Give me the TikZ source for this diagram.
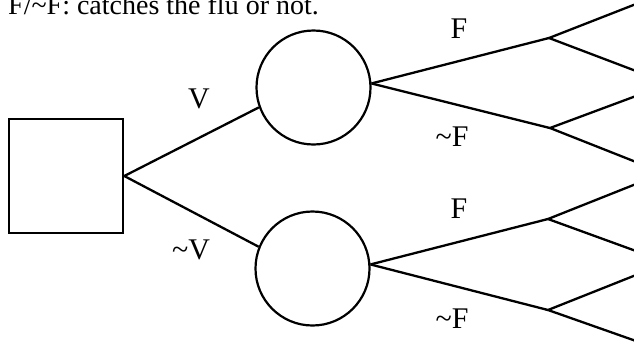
\documentclass[tikz,border=0pt]{standalone}
\usepackage{fontspec}
\setmainfont{Liberation Serif}
\begin{document}
\begin{tikzpicture}[x=1pt,y=-1pt,
  edge/.style={line width=2.3pt},
  chance/.style={draw,circle,line width=2.2pt,minimum size=114pt,inner sep=0pt},
  decision/.style={draw,rectangle,line width=2.6pt,minimum size=114pt,inner sep=0pt},
  lbl/.style={font=\fontsize{30}{30}\selectfont,inner sep=0pt},
  title/.style={font=\fontsize{28}{28}\selectfont,inner sep=0pt,anchor=base west}]
\useasboundingbox (0,0) rectangle (634,341);
\node[title] (t) at (8,14) {F/\textasciitilde F: catches the flu or not.};
\node[decision] (sq) at (66,176) {};
\node[chance] (c1) at (313.5,87.5) {};
\node[chance] (c2) at (312.5,268.5) {};
\coordinate (b1) at (549,38);
\coordinate (b2) at (550,128);
\coordinate (b3) at (548,219);
\coordinate (b4) at (548,310);
\coordinate (e1) at (636,4);
\coordinate (e2) at (636,71);
\coordinate (e3) at (636,96);
\coordinate (e4) at (636,162);
\coordinate (e5) at (636,184);
\coordinate (e6) at (636,251);
\coordinate (e7) at (636,275);
\coordinate (e8) at (636,341);
\draw[edge] (sq.east) -- (c1.200);
\draw[edge] (sq.east) -- (c2.158);
\draw[edge] (c1.4) -- (b1);
\draw[edge] (c1.4) -- (b2);
\draw[edge] (c2.4) -- (b3);
\draw[edge] (c2.4) -- (b4);
\draw[edge] (e1) -- (b1) -- (e2);
\draw[edge] (e3) -- (b2) -- (e4);
\draw[edge] (e5) -- (b3) -- (e6);
\draw[edge] (e7) -- (b4) -- (e8);
\node[lbl] (lv) at (199,99) {V};
\node[lbl] (lnv) at (191,250) {\textasciitilde V};
\node[lbl] (lf1) at (459,29) {F};
\node[lbl] (lnf1) at (452,137) {\textasciitilde F};
\node[lbl] (lf2) at (459,209) {F};
\node[lbl] (lnf2) at (452,319) {\textasciitilde F};
\end{tikzpicture}
\end{document}
